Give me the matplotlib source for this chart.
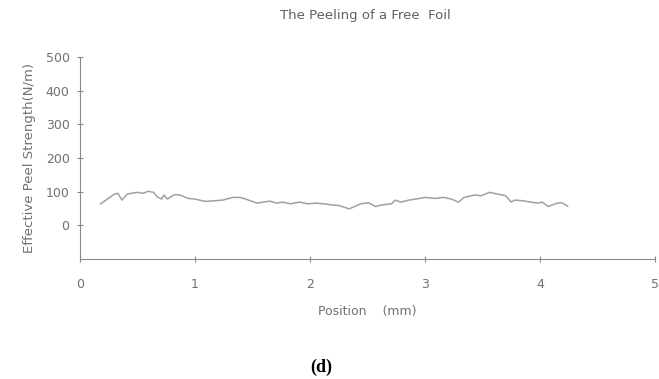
import numpy as np
import matplotlib

matplotlib.use("Agg")
import matplotlib.pyplot as plt

# position (mm) and effective peel strength (N/m)
position = [0.18, 0.30, 0.33, 0.365, 0.41, 0.50, 0.55, 0.59, 0.64, 0.67, 0.71, 0.73, 0.76,
            0.82, 0.87, 0.94, 1.00, 1.09, 1.17, 1.24, 1.33, 1.39, 1.44, 1.54, 1.65, 1.71,
            1.76, 1.83, 1.91, 1.98, 2.05, 2.12, 2.18, 2.25, 2.34, 2.39, 2.44, 2.51, 2.57,
            2.63, 2.71, 2.74, 2.79, 2.86, 2.92, 3.00, 3.09, 3.16, 3.23, 3.29, 3.34, 3.43,
            3.49, 3.56, 3.63, 3.70, 3.75, 3.78, 3.85, 3.92, 3.98, 4.02, 4.07, 4.15, 4.19, 4.24]
strength = [64, 93, 95, 75, 93, 98, 95, 101, 98, 85, 78, 90, 78,
            91, 90, 80, 78, 71, 73, 75, 83, 83, 78, 66, 72, 66,
            69, 64, 69, 64, 66, 64, 61, 59, 49, 56, 64, 67, 56,
            61, 64, 75, 69, 75, 78, 83, 80, 83, 78, 69, 83, 90,
            88, 98, 93, 88, 69, 75, 73, 69, 66, 69, 56, 66, 67, 57]
xticks = [0, 1, 2, 3, 4, 5]
yticks = [0, 100, 200, 300, 400, 500]

GREY = "#8a8a8a"
plt.rcParams["font.family"] = ["DejaVu Sans"]

fig = plt.figure(figsize=(6.59, 3.79), dpi=100)
ax = fig.add_axes([0.1214, 0.3166, 0.8726, 0.533])
ax.plot(position, strength, color="#a0a0a0", lw=1.1)

ax.set_xlim(0, 5)
ax.set_ylim(-100, 500)
ax.set_xticks(xticks)
ax.set_yticks(yticks)
for s in ("top", "right"):
    ax.spines[s].set_visible(False)
for s in ("left", "bottom"):
    ax.spines[s].set_color(GREY)
    ax.spines[s].set_linewidth(0.8)
ax.tick_params(direction="inout", length=5, width=0.8, color=GREY, labelcolor="#707070",
               labelsize=9)
ax.tick_params(axis="x", pad=11)
ax.tick_params(axis="y", pad=5)

fig.text(0.555, 0.96, "The Peeling of a Free  Foil", ha="center", va="center",
         fontsize=9.5, color="#606060")
fig.text(0.557, 0.177, "Position    (mm)", ha="center", va="center", fontsize=9,
         color="#707070")
fig.text(0.045, 0.583, "Effective Peel Strength(N/m)", ha="center", va="center",
         rotation=90, fontsize=9.5, color="#707070")
fig.text(0.487, 0.032, "(d)", ha="center", va="center", fontsize=13, fontweight="bold",
         family="Liberation Serif", color="black")

fig.savefig("out.png", dpi=100)
